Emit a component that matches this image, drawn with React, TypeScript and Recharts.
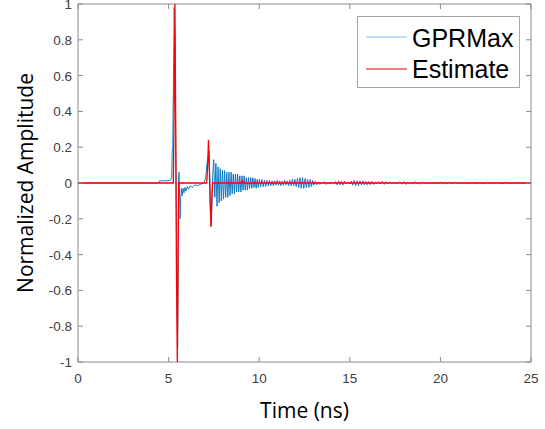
import { Label, Line, LineChart, ReferenceArea, XAxis, YAxis } from "recharts"

const xTicks = [0, 5, 10, 15, 20, 25]
const yTicks = [-1, -0.8, -0.6, -0.4, -0.2, 0, 0.2, 0.4, 0.6, 0.8, 1]

// time (ns), normalized amplitude
const gprmax: [number, number][] = [
  [0, 0], [4.45, 0], [4.5, 0.012], [4.8, 0.012], [5.1, 0.015], [5.17, 0.03],
  [5.2, 0.18], [5.23, 0.2], [5.27, 0.6], [5.31, 0.98], [5.35, 0.8], [5.39, 0.3],
  [5.43, -0.2], [5.47, -0.7], [5.5, -0.92], [5.53, -0.5], [5.55, 0.02], [5.58, 0.06],
  [5.63, -0.2], [5.67, -0.08], [5.71, -0.03], [5.75, -0.07], [5.8, -0.03], [5.85, -0.055],
  [5.9, -0.025], [5.96, -0.045], [6.03, -0.02], [6.1, -0.035], [6.2, -0.015], [6.3, -0.025],
  [6.45, -0.01], [6.6, -0.015], [6.8, -0.005], [6.95, 0], [7.05, 0.03], [7.12, 0.11],
  [7.17, 0.14], [7.23, 0.18], [7.27, 0.05], [7.31, -0.15], [7.36, -0.24], [7.43, 0.04],
  [7.49, 0.13], [7.55, -0.08], [7.61, 0.11], [7.67, -0.13], [7.73, 0.09], [7.79, -0.11],
  [7.85, 0.08], [7.91, -0.1], [7.97, 0.07], [8.03, -0.09], [8.09, 0.07], [8.15, -0.08],
  [8.21, 0.06], [8.27, -0.08], [8.33, 0.06], [8.39, -0.07], [8.45, 0.06], [8.51, -0.06],
  [8.57, 0.05], [8.63, -0.06], [8.69, 0.05], [8.75, -0.05], [8.81, 0.05], [8.87, -0.05],
  [8.93, 0.04], [8.99, -0.05], [9.05, 0.04], [9.11, -0.04], [9.17, 0.04], [9.23, -0.04],
  [9.29, 0.03], [9.35, -0.04], [9.41, 0.03], [9.47, -0.03], [9.53, 0.03], [9.59, -0.03],
  [9.65, 0.03], [9.71, -0.025], [9.77, 0.025], [9.83, -0.03], [9.89, 0.02], [9.95, -0.025],
  [10.01, 0.02], [10.08, -0.02], [10.15, 0.02], [10.22, -0.02], [10.29, 0.015], [10.36, -0.02],
  [10.43, 0.015], [10.5, -0.015], [10.57, 0.015], [10.64, -0.015], [10.71, 0.012], [10.78, -0.015],
  [10.85, 0.012], [10.92, -0.012], [10.99, 0.015], [11.06, -0.012], [11.13, 0.012], [11.2, -0.015],
  [11.27, 0.01], [11.34, -0.012], [11.41, 0.015], [11.48, -0.01], [11.55, 0.012], [11.62, -0.015],
  [11.69, 0.015], [11.76, -0.015], [11.83, 0.02], [11.9, -0.015], [11.97, 0.02], [12.04, -0.02],
  [12.11, 0.025], [12.18, -0.025], [12.25, 0.03], [12.32, -0.03], [12.39, 0.03], [12.46, -0.03],
  [12.53, 0.025], [12.6, -0.025], [12.67, 0.02], [12.74, -0.025], [12.81, 0.02], [12.88, -0.02],
  [12.95, 0.015], [13.02, -0.012], [13.1, 0.01], [13.18, -0.01], [13.26, 0.006], [13.34, -0.008],
  [13.42, 0.005], [13.5, -0.005], [13.6, 0.008], [13.7, -0.008], [13.8, 0.005], [13.9, -0.005],
  [14.0, 0.005], [14.1, -0.005], [14.2, 0.008], [14.3, -0.01], [14.38, 0.012], [14.46, -0.01],
  [14.54, 0.01], [14.62, -0.012], [14.7, 0.01], [14.8, -0.005], [14.9, 0.005], [15.0, -0.005],
  [15.08, 0.01], [15.16, -0.012], [15.24, 0.015], [15.32, -0.015], [15.4, 0.012], [15.48, -0.015],
  [15.56, 0.012], [15.64, -0.01], [15.72, 0.012], [15.8, -0.01], [15.88, 0.01], [15.96, -0.01],
  [16.04, 0.008], [16.12, -0.01], [16.2, 0.01], [16.3, -0.008], [16.4, 0.005], [16.5, -0.005],
  [16.6, 0.008], [16.7, -0.005], [16.8, 0.01], [16.9, -0.008], [17.0, 0.008], [17.1, -0.005],
  [17.2, 0.005], [17.3, -0.003], [17.45, 0.003], [17.6, -0.003], [17.75, 0.005], [17.9, -0.005],
  [18.0, 0.008], [18.1, -0.008], [18.2, 0.006], [18.3, -0.005], [18.4, 0.005], [18.5, -0.006],
  [18.6, 0.008], [18.7, -0.006], [18.8, 0.005], [18.9, -0.005], [19.0, 0.004], [19.15, -0.003],
  [19.3, 0.002], [19.5, -0.002], [19.7, 0.002], [19.9, -0.002], [20.05, 0.005], [20.15, -0.006],
  [20.25, 0.006], [20.35, -0.005], [20.45, 0.004], [20.6, -0.002], [20.8, 0.002], [21.0, -0.002],
  [21.3, 0.002], [21.6, -0.004], [21.75, 0.004], [21.9, -0.003], [22.1, 0.002], [22.4, -0.003],
  [22.6, 0.003], [22.8, -0.002], [23.1, 0.002], [23.4, -0.003], [23.6, 0.002], [23.9, -0.002],
  [24.2, 0.002], [24.5, -0.002], [24.8, 0.001], [25, 0],
]

const estimate: [number, number][] = [
  [0, 0], [5.26, 0], [5.3, 0.35], [5.35, 1.0], [5.39, 0.35], [5.43, -0.45],
  [5.48, -1.0], [5.52, -0.4], [5.56, 0], [7.1, 0], [7.15, 0.08], [7.2, 0.24],
  [7.25, 0.08], [7.29, -0.1], [7.34, -0.245], [7.38, -0.1], [7.43, 0], [9.0, 0],
  [9.07, 0.012], [9.14, 0], [25, 0],
]

const gprData = gprmax.map(([t, v]) => ({ t, v }))
const estData = estimate.map(([t, v]) => ({ t, v }))

const AXIS = "#8a8a8a"
const TICK_TEXT = "#404040"
const PLOT_W = 453
const PLOT_H = 358
const tickFont = "'Liberation Sans', Arial, sans-serif"
const titleFont = "'Open Sans', 'Noto Sans', sans-serif"

function XTick({ x, y, payload }: any) {
  return (
    <g>
      <line x1={x} x2={x} y1={y} y2={y - 5} stroke={AXIS} />
      <line x1={x} x2={x} y1={y - PLOT_H} y2={y - PLOT_H + 5} stroke={AXIS} />
      <text x={x} y={y + 21} textAnchor="middle" fontSize={13.5} fontFamily={tickFont} fill={TICK_TEXT}>
        {payload.value}
      </text>
    </g>
  )
}

function YTick({ x, y, payload }: any) {
  return (
    <g>
      <line x1={x} x2={x + 5} y1={y} y2={y} stroke={AXIS} />
      <line x1={x + PLOT_W - 5} x2={x + PLOT_W} y1={y} y2={y} stroke={AXIS} />
      <text x={x - 6} y={y + 5} textAnchor="end" fontSize={13.5} fontFamily={tickFont} fill={TICK_TEXT}>
        {String(payload.value)}
      </text>
    </g>
  )
}

function XTitle({ viewBox }: any) {
  return (
    <text x={viewBox.x + viewBox.width / 2} y={viewBox.y + 56} textAnchor="middle" fontSize={21} fontFamily={titleFont} fill="#000">
      Time (ns)
    </text>
  )
}

function YTitle({ viewBox }: any) {
  const cx = 33
  const cy = viewBox.y + viewBox.height / 2
  return (
    <text x={cx} y={cy} transform={`rotate(-90, ${cx}, ${cy})`} textAnchor="middle" fontSize={21} fontFamily={titleFont} fill="#000">
      Normalized Amplitude
    </text>
  )
}

function ChartLegend() {
  return (
    <svg
      width={163}
      height={73}
      style={{ position: "absolute", left: 357, top: 16, overflow: "visible" }}
    >
      <rect x={0.5} y={0.5} width={162} height={71} fill="#fff" stroke="#a6a6a6" />
      <line x1={9} x2={50} y1={21} y2={21} stroke="#0072BD" strokeOpacity={0.45} />
      <text x={55} y={31} fontSize={25} fontFamily={tickFont} fill="#000">GPRMax</text>
      <line x1={9} x2={50} y1={53} y2={53} stroke="#e00000" />
      <text x={55} y={62} fontSize={25} fontFamily={tickFont} fill="#000">Estimate</text>
    </svg>
  )
}

export default function App() {
  return (
    <div style={{ position: "relative", width: 545, height: 429, background: "#fff" }}>
      <style>{`body { margin: 0; }`}</style>
      <LineChart width={545} height={429} margin={{ top: 4, right: 14, bottom: 0, left: 0 }}>
        <XAxis
          dataKey="t"
          type="number"
          domain={[0, 25]}
          ticks={xTicks}
          allowDataOverflow
          height={67}
          axisLine={false}
          tickLine={false}
          tickSize={0}
          tickMargin={0}
          tick={<XTick />}
          interval={0}
          label={<Label content={XTitle} />}
        />
        <YAxis
          type="number"
          domain={[-1, 1]}
          ticks={yTicks}
          allowDataOverflow
          width={78}
          axisLine={false}
          tickLine={false}
          tickSize={0}
          tickMargin={0}
          tick={<YTick />}
          interval={0}
          label={<Label content={YTitle} />}
        />
        <ReferenceArea x1={0} x2={25} y1={-1} y2={1} fill="none" stroke={AXIS} strokeWidth={1} />
        <Line
          data={gprData}
          dataKey="v"
          stroke="#0072BD"
          strokeWidth={0.9}
          dot={false}
          activeDot={false}
          isAnimationActive={false}
        />
        <Line
          data={estData}
          dataKey="v"
          stroke="#ff0000"
          strokeWidth={1.3}
          dot={false}
          activeDot={false}
          isAnimationActive={false}
        />
      </LineChart>
      <ChartLegend />
    </div>
  )
}
